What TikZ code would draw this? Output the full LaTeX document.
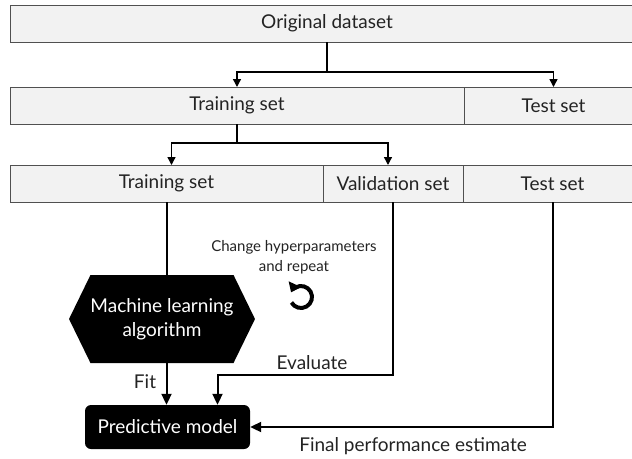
\documentclass[tikz,border=0pt]{standalone}
\usepackage{fontspec}
\setmainfont{Lato}
\usetikzlibrary{positioning,arrows.meta,shapes.symbols}
\definecolor{boxfill}{RGB}{242,242,242}
\definecolor{boxline}{RGB}{80,80,80}
\definecolor{txtclr}{RGB}{35,35,35}

\begin{document}
\begin{tikzpicture}[x=1pt, y=-1pt,
    setbox/.style={rectangle, draw=boxline, fill=boxfill, line width=1pt,
      minimum height=37pt, inner sep=0pt, outer sep=0pt,
      font=\fontsize{19}{22}\selectfont, text=txtclr},
    blackbox/.style={fill=black, text=white, inner sep=0pt,
      font=\fontsize{19}{24}\selectfont, align=center},
    lbl/.style={font=\fontsize{19}{22}\selectfont, text=txtclr},
    thin arrow/.style={-{Triangle[length=8pt,width=8pt]}, line width=1.4pt},
    thick arrow/.style={-{Triangle[length=11pt,width=10pt]}, line width=2pt}]
  \clip (0,0) rectangle (632,458);

  % dataset rows
  \node[setbox, minimum width=634pt] (orig) at (327,23.5) {Original dataset};
  \node[setbox, minimum width=454pt] (train1) at (237,105.5) {Training set};
  \node[setbox, minimum width=179pt, right=0pt of train1] (test1) {Test set};
  \node[setbox, minimum width=313pt] (train2) at (166.5,183.5) {Training set};
  \node[setbox, minimum width=140pt, right=0pt of train2] (val) {Validation set};
  \node[setbox, minimum width=179pt, right=0pt of val] (test2) {Test set};

  % model part
  \node[blackbox, signal, signal to=west and east, signal pointer angle=128,
        minimum width=180pt, minimum height=88pt] (algo) at (162,319)
        {Machine learning\\algorithm};
  \node[blackbox, rectangle, rounded corners=6pt, minimum width=165pt,
        minimum height=44pt] (pred) at (167.5,427) {Predictive model};

  % splits
  \draw[line width=1.4pt] (orig.south) -- ++(0,30) coordinate (split1);
  \draw[thin arrow] (split1) -| (train1.north);
  \draw[thin arrow] (split1) -| (test1.north);
  \draw[line width=1.4pt] (train1.south) -- ++(0,19) coordinate (split2);
  \draw[thin arrow] (split2) -| ([xshift=5pt]train2.north);
  \draw[thin arrow] (split2) -| ([xshift=-5pt]val.north);

  % training loop
  \draw[line width=2pt] (train2.south) -- (train2.south |- algo.north);
  \draw[thick arrow] (train2.south |- algo.south) -- (train2.south |- pred.north);
  \draw[thick arrow] (val.south) -- ++(0,173) -| ([xshift=50pt]pred.north);
  \draw[thick arrow] (test2.south) |- (pred.east);

  \node[lbl] (fit) at (145,382) {Fit};
  \node[lbl] (evaluate) at (312,363) {Evaluate};
  \node[lbl] (final) at (413,446) {Final performance estimate};
  \node[lbl, font=\fontsize{15}{20}\selectfont, align=center] (change) at (294,257)
        {Change hyperparameters\\and repeat};

  % repeat icon
  \coordinate (repeat) at (301,297);
  \draw[line width=4pt, -{Triangle[length=9pt,width=13pt]}]
        ([shift={(-210:11)}]repeat) arc[start angle=-210, end angle=-515, radius=11];
\end{tikzpicture}
\end{document}
